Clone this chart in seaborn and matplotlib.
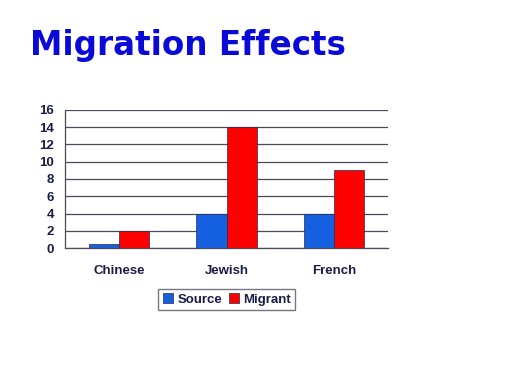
import matplotlib
matplotlib.use("Agg")
import matplotlib.pyplot as plt
import seaborn as sns
import pandas as pd
from matplotlib.ticker import FixedLocator

# chart data
groups = ["Chinese", "Jewish", "French"]
source_vals = [0.5, 4, 4]
migrant_vals = [2, 14, 9]
series_names = ["Source", "Migrant"]
y_ticks = [0, 2, 4, 6, 8, 10, 12, 14, 16]

df = pd.DataFrame({
    "group": groups * 2,
    "series": [series_names[0]] * 3 + [series_names[1]] * 3,
    "value": source_vals + migrant_vals,
})

sns.set_style("white")
plt.rcParams["font.family"] = ["Liberation Sans", "DejaVu Sans"]

navy = "#1b1b4a"
palette = {"Source": "#1460e0", "Migrant": "#ff0000"}

fig = plt.figure(figsize=(5.12, 3.84), dpi=100)
ax = fig.add_axes([0.127, 0.354, 0.631, 0.36])

sns.barplot(data=df, x="group", y="value", hue="series", order=groups,
            hue_order=series_names, palette=palette, width=0.56,
            saturation=1, edgecolor="#2a2a50", linewidth=0.5, ax=ax)

ax.set_xlim(-0.5, 2.5)
ax.set_ylim(0, 16)
ax.set_yticks(y_ticks)
ax.yaxis.grid(True, color="#4a4a5a", linewidth=0.9)
ax.set_axisbelow(True)
for s in ["top", "right"]:
    ax.spines[s].set_visible(False)
for s in ["left", "bottom"]:
    ax.spines[s].set_color("#4a4a5a")
    ax.spines[s].set_linewidth(0.9)

ax.tick_params(axis="y", length=4, width=0.9, color="#4a4a5a", pad=4,
               labelsize=9.5, labelcolor=navy)
ax.tick_params(axis="x", which="major", length=0, pad=12, labelsize=9.5,
               labelcolor=navy)
ax.xaxis.set_minor_locator(FixedLocator([0.5, 1.5, 2.5]))
ax.tick_params(axis="x", which="minor", length=4, width=0.9, color="#4a4a5a")
for lbl in ax.get_xticklabels() + ax.get_yticklabels():
    lbl.set_fontweight("bold")
ax.set_xlabel("")
ax.set_ylabel("")

ax.legend_.remove()
handles, labels = ax.get_legend_handles_labels()
leg = fig.legend(handles, labels, loc="center", bbox_to_anchor=(0.443, 0.22),
                 ncol=2, frameon=True, fancybox=False, handlelength=0.8,
                 handleheight=0.8, handletextpad=0.3, columnspacing=0.5,
                 borderpad=0.35, prop={"weight": "bold", "size": 9.5})
leg.get_frame().set_edgecolor("#555566")
leg.get_frame().set_linewidth(1.0)
for t in leg.get_texts():
    t.set_color(navy)

fig.text(0.058, 0.882, "Migration Effects", fontsize=23.5, fontweight="bold",
         family="DejaVu Sans", color="#0a0ad8", ha="left", va="center")

fig.savefig("out.png", dpi=100)
